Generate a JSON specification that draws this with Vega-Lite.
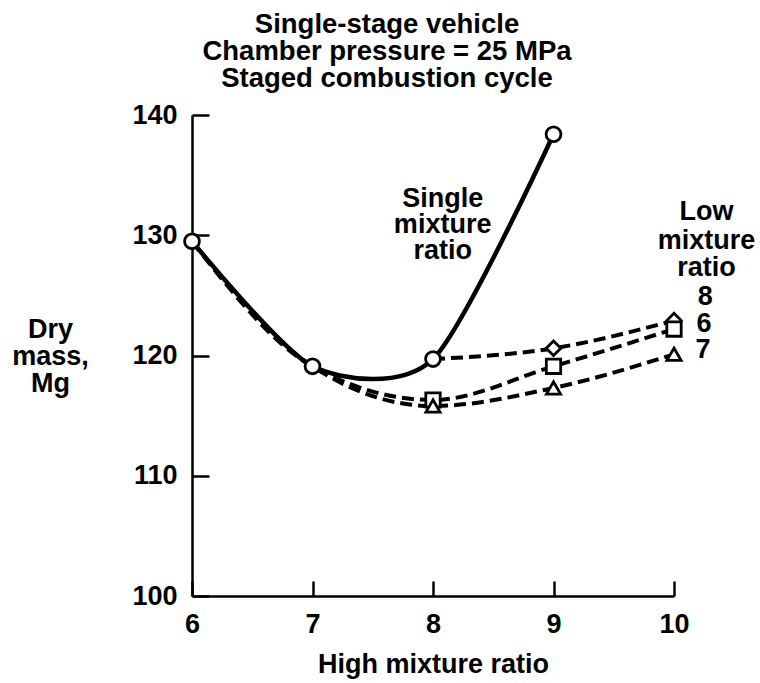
{
  "$schema": "https://vega.github.io/schema/vega-lite/v6.json",
  "width": 482,
  "height": 481,
  "autosize": {"type": "none"},
  "padding": {"left": 192, "top": 115, "right": 86, "bottom": 87},
  "background": "white",
  "config": {
    "view": {"stroke": null},
    "font": "Liberation Sans",
    "axis": {"labelFont": "Liberation Sans", "titleFont": "Liberation Sans", "labelColor": "black", "titleColor": "black", "grid": false}
  },
  "title": {
    "text": ["Single-stage vehicle", "Chamber pressure = 25 MPa", "Staged combustion cycle"],
    "anchor": "middle",
    "frame": "group",
    "dx": -46,
    "offset": 9,
    "fontSize": 27.5,
    "fontWeight": "bold",
    "lineHeight": 27,
    "color": "black",
    "font": "Liberation Sans"
  },
  "datasets": {
    "curves": [
      {"series": "Single", "hmr": 6, "mass": 129.5},
      {"series": "Single", "hmr": 7, "mass": 119.1},
      {"series": "Single", "hmr": 8, "mass": 119.7},
      {"series": "Single", "hmr": 9, "mass": 138.4},
      {"series": "8", "hmr": 8, "mass": 119.7},
      {"series": "8", "hmr": 9, "mass": 120.6},
      {"series": "8", "hmr": 10, "mass": 122.9},
      {"series": "6", "hmr": 6, "mass": 129.5},
      {"series": "6", "hmr": 7, "mass": 119.1},
      {"series": "6", "hmr": 8, "mass": 116.3},
      {"series": "6", "hmr": 9, "mass": 119.1},
      {"series": "6", "hmr": 10, "mass": 122.2},
      {"series": "7", "hmr": 6, "mass": 129.5},
      {"series": "7", "hmr": 7, "mass": 119.1},
      {"series": "7", "hmr": 8, "mass": 115.8},
      {"series": "7", "hmr": 9, "mass": 117.3},
      {"series": "7", "hmr": 10, "mass": 120.1}
    ],
    "notes": [
      {"label": "Single", "hmr": 8.08, "mass": 132.35},
      {"label": "mixture", "hmr": 8.08, "mass": 130.2},
      {"label": "ratio", "hmr": 8.08, "mass": 128.0},
      {"label": "Low", "hmr": 10.27, "mass": 131.27},
      {"label": "mixture", "hmr": 10.27, "mass": 128.85},
      {"label": "ratio", "hmr": 10.27, "mass": 126.6},
      {"label": "8", "hmr": 10.26, "mass": 124.2},
      {"label": "6", "hmr": 10.25, "mass": 121.95},
      {"label": "7", "hmr": 10.24, "mass": 119.8}
    ]
  },
  "layer": [
    {
      "data": {"name": "curves"},
      "transform": [{"filter": "datum.series != 'Single'"}],
      "mark": {"type": "line", "interpolate": "monotone", "strokeDash": [12, 6], "strokeWidth": 4, "color": "black"},
      "encoding": {
        "x": {
          "field": "hmr", "type": "quantitative",
          "scale": {"domain": [6, 10], "nice": false, "zero": false},
          "axis": {
            "values": [6, 7, 8, 9, 10],
            "format": "d",
            "title": "High mixture ratio",
            "titleFontSize": 27,
            "titleFontWeight": "bold",
            "titleBaseline": "alphabetic",
            "titleY": 76,
            "labelFontSize": 27,
            "labelFontWeight": "bold",
            "labelPadding": 30,
            "labelBaseline": "top",
            "tickSize": -15,
            "tickWidth": 2.5,
            "tickColor": "black",
            "domainWidth": 2.5,
            "domainColor": "black",
            "labelFlush": false
          }
        },
        "y": {
          "field": "mass", "type": "quantitative",
          "scale": {"domain": [100, 140], "nice": false, "zero": false},
          "axis": {
            "values": [100, 110, 120, 130, 140],
            "title": ["Dry", "mass,", "Mg"],
            "titleAngle": 0,
            "titleAlign": "center",
            "titleBaseline": "middle",
            "titleX": -142,
            "titleY": 214,
            "titleLineHeight": 27,
            "titleFontSize": 27,
            "titleFontWeight": "bold",
            "labelFontSize": 27,
            "labelFontWeight": "bold",
            "labelPadding": 32,
            "tickSize": -17,
            "tickWidth": 2.5,
            "tickColor": "black",
            "domainWidth": 2.5,
            "domainColor": "black",
            "labelFlush": false
          }
        },
        "detail": {"field": "series"}
      }
    },
    {
      "data": {"name": "curves"},
      "transform": [{"filter": "datum.series == 'Single'"}],
      "mark": {"type": "line", "interpolate": "cardinal", "tension": 0.25, "strokeWidth": 4.5, "color": "black"},
      "encoding": {
        "x": {"field": "hmr", "type": "quantitative"},
        "y": {"field": "mass", "type": "quantitative"}
      }
    },
    {
      "data": {"name": "curves"},
      "transform": [{"filter": "datum.series == 'Single' || (datum.hmr >= 8 && !(datum.series == '8' && datum.hmr == 8))"}],
      "mark": {"type": "point", "filled": true, "fill": "white", "stroke": "black", "strokeWidth": 2.8, "opacity": 1},
      "encoding": {
        "x": {"field": "hmr", "type": "quantitative"},
        "y": {"field": "mass", "type": "quantitative"},
        "shape": {"field": "series", "type": "nominal", "scale": {"domain": ["Single", "8", "6", "7"], "range": ["circle", "diamond", "square", "triangle-up"]}, "legend": null},
        "size": {"field": "series", "type": "nominal", "scale": {"domain": ["Single", "8", "6", "7"], "range": [220, 200, 140, 160]}, "legend": null}
      }
    },
    {
      "data": {"name": "notes"},
      "mark": {"type": "text", "align": "center", "baseline": "alphabetic", "fontSize": 27, "fontWeight": "bold", "color": "black", "font": "Liberation Sans"},
      "encoding": {
        "x": {"field": "hmr", "type": "quantitative"},
        "y": {"field": "mass", "type": "quantitative"},
        "text": {"field": "label"}
      }
    }
  ]
}
